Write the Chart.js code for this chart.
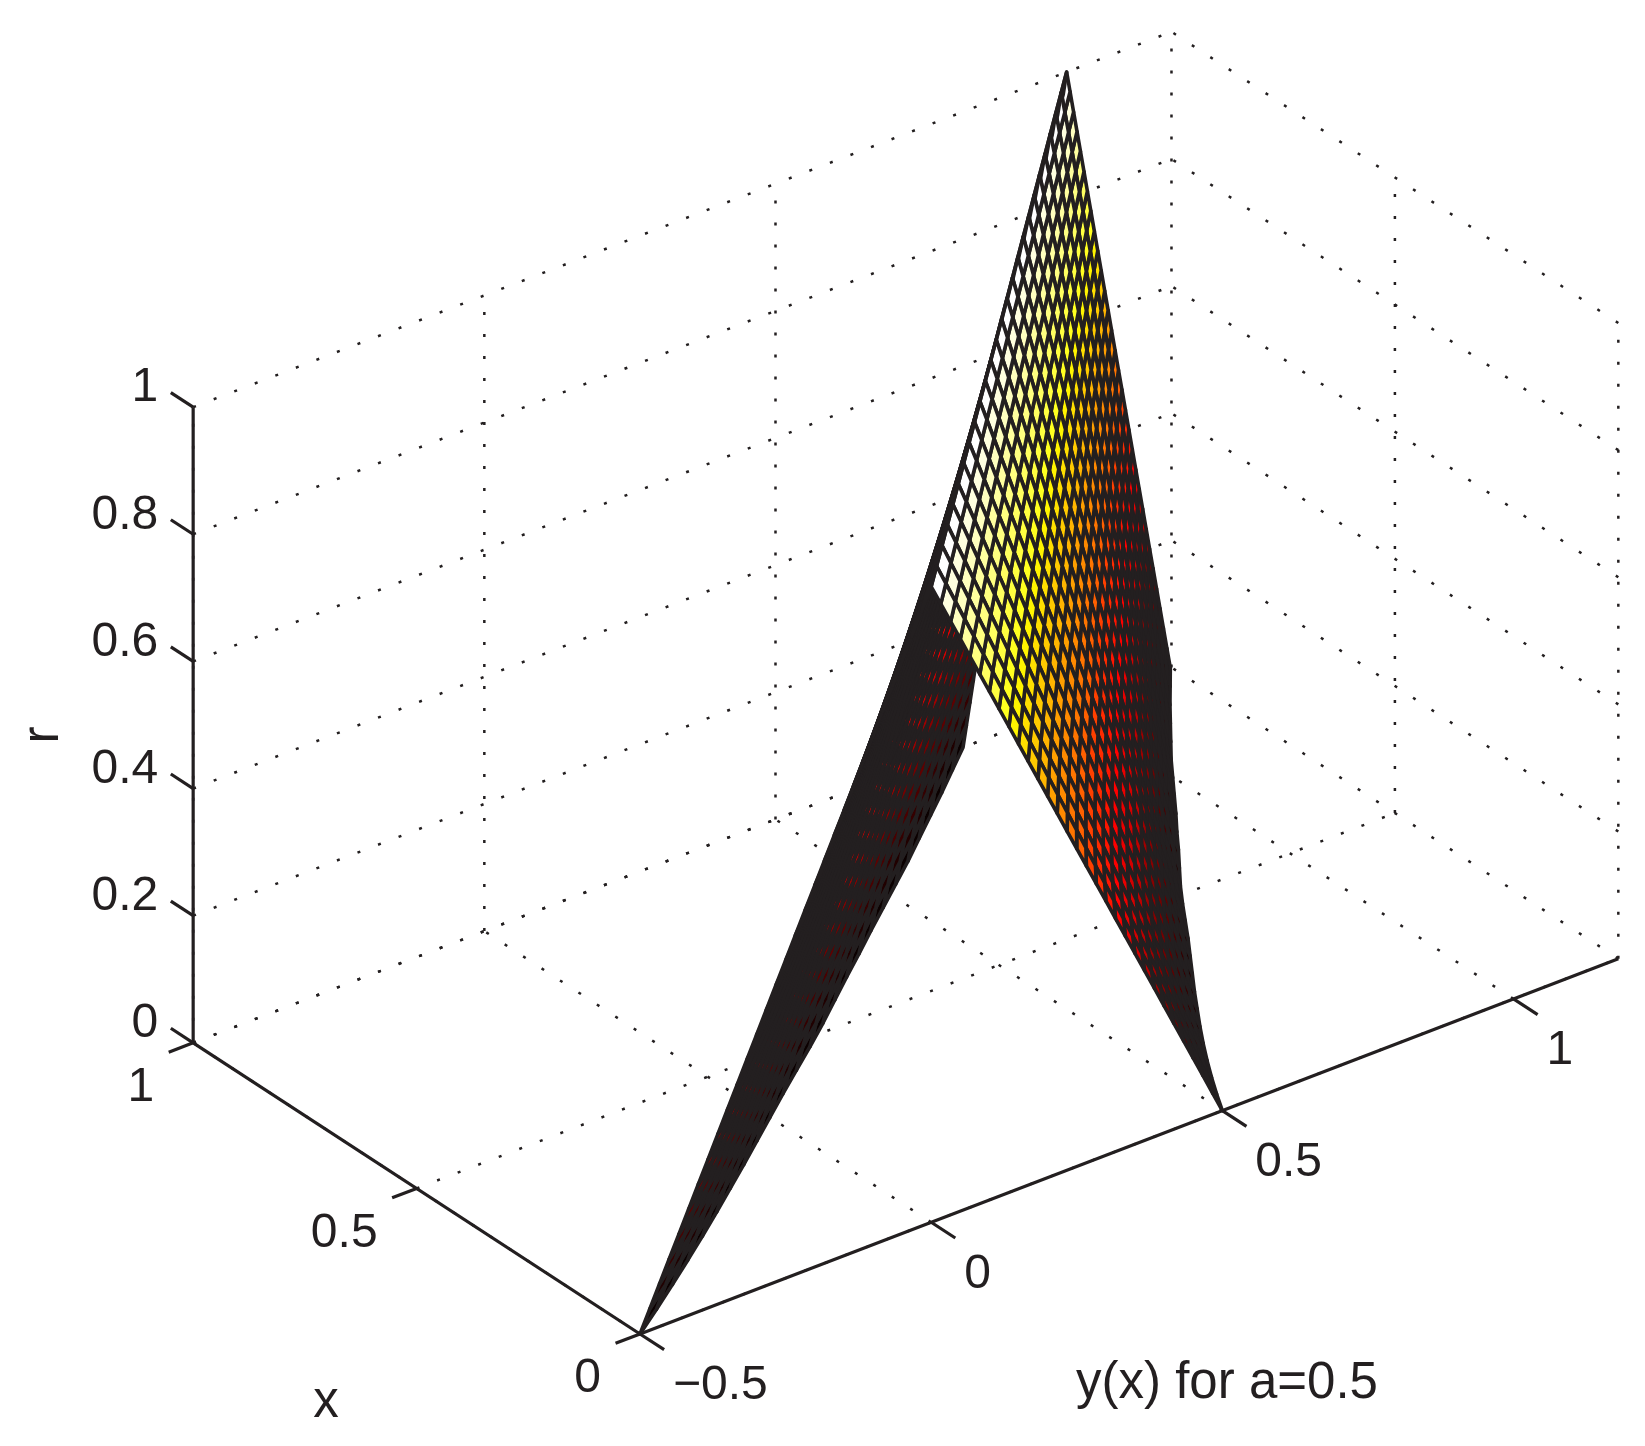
<!DOCTYPE html>
<html>
<head>
<meta charset="utf-8">
<title>y(x) for a=0.5</title>
<script src="https://cdn.jsdelivr.net/npm/chart.js@4.4.1/dist/chart.umd.min.js"></script>
<style>
  html, body { margin: 0; padding: 0; background: #fff; }
  #wrap { position: relative; width: 1645px; height: 1446px; }
</style>
</head>
<body>
<div id="wrap"><canvas id="surfChart"></canvas></div>
<script>
// ---- data ----
const xGrid = [0, 0.04, 0.08, 0.12, 0.16, 0.2, 0.24, 0.28, 0.32, 0.36, 0.4, 0.44, 0.48,
               0.52, 0.56, 0.6, 0.64, 0.68, 0.72, 0.76, 0.8, 0.84, 0.88, 0.92, 0.96, 1];
// y position of the crest (r = 1) for each x
const peakY = [0, 0.04, 0.08, 0.12, 0.16, 0.2, 0.24, 0.28, 0.32, 0.36, 0.4, 0.44, 0.48,
               0.52, 0.56, 0.6, 0.64, 0.68, 0.72, 0.76, 0.8, 0.84, 0.88, 0.92, 0.96, 1];
// half width of the profile at r = 0 for each x
const halfWidth = [0.5, 0.481, 0.463, 0.446, 0.43, 0.415, 0.401, 0.387, 0.374, 0.361, 0.348, 0.334, 0.32,
                   0.307, 0.296, 0.285, 0.273, 0.262, 0.25, 0.238, 0.226, 0.216, 0.206, 0.196, 0.187, 0.178];
// r levels of the mesh on each flank
const rLevels = [0, 0.033, 0.067, 0.1, 0.133, 0.167, 0.2, 0.233, 0.267, 0.3, 0.333,
                 0.367, 0.4, 0.433, 0.467, 0.5, 0.533, 0.567, 0.6, 0.633, 0.667,
                 0.7, 0.733, 0.767, 0.8, 0.833, 0.867, 0.9, 0.933, 0.967, 1];

const xLim = [0, 1];
const yLim = [-0.5, 1.18];
const rLim = [0, 1];
const xTicks = [0, 0.5, 1];
const yTicks = [-0.5, 0, 0.5, 1];
const rTicks = [0, 0.2, 0.4, 0.6, 0.8, 1];
const xTickLabels = ['0', '0.5', '1'];
const yTickLabels = ['\u22120.5', '0', '0.5', '1'];
const rTickLabels = ['0', '0.2', '0.4', '0.6', '0.8', '1'];

// ---- view (az / el) ----
const AZ = 52.5 * Math.PI / 180, EL = 30 * Math.PI / 180;
const SA = Math.sin(AZ), CA = Math.cos(AZ), SE = Math.sin(EL), CE = Math.cos(EL);
const U_MIN = -1.2686, U_MAX = 0.9725, V_MIN = -0.3048, V_MAX = 1.6652;

const INK = '#231f20';
const FONT = '"Liberation Sans", Arial, Helvetica, sans-serif';

function proj(x, y, r) {
    return { x: -x * CA + y * SA, y: SE * SA * x + SE * CA * y + CE * r };
}
function depthOf(x, y, r) {
    return CE * (SA * x + CA * y) - SE * r;
}

// MATLAB 'hot' colormap, 64 entries
function hot(c) {
    const k = Math.max(0, Math.min(63, Math.floor(c * 64)));
    const red = k < 24 ? (k + 1) / 24 : 1;
    const green = k < 24 ? 0 : (k < 48 ? (k - 23) / 24 : 1);
    const blue = k < 48 ? 0 : (k - 47) / 16;
    return 'rgb(' + Math.round(red * 255) + ',' + Math.round(green * 255) + ',' + Math.round(blue * 255) + ')';
}

/* =====================
   Axes, ticks and dotted grid as line datasets
====================== */
function seg(a, b, style) {
    return Object.assign({
        data: [proj(a[0], a[1], a[2]), proj(b[0], b[1], b[2])],
        showLine: true,
        pointRadius: 0,
        fill: false,
        borderColor: INK
    }, style);
}
const dotted = { borderWidth: 2.5, borderDash: [3, 19] };
const solid = { borderWidth: 3.2 };

const datasets = [];
// floor grid
xTicks.forEach(v => datasets.push(seg([v, yLim[0], 0], [v, yLim[1], 0], dotted)));
yTicks.forEach(v => datasets.push(seg([xLim[0], v, 0], [xLim[1], v, 0], dotted)));
// back wall x = 1
yTicks.forEach(v => datasets.push(seg([xLim[1], v, rLim[0]], [xLim[1], v, rLim[1]], dotted)));
rTicks.forEach(v => datasets.push(seg([xLim[1], yLim[0], v], [xLim[1], yLim[1], v], dotted)));
// back wall y = ymax
xTicks.forEach(v => datasets.push(seg([v, yLim[1], rLim[0]], [v, yLim[1], rLim[1]], dotted)));
rTicks.forEach(v => datasets.push(seg([xLim[0], yLim[1], v], [xLim[1], yLim[1], v], dotted)));
// axis lines
datasets.push(seg([xLim[0], yLim[0], 0], [xLim[1], yLim[0], 0], solid));
datasets.push(seg([xLim[0], yLim[0], 0], [xLim[0], yLim[1], 0], solid));
datasets.push(seg([xLim[1], yLim[0], rLim[0]], [xLim[1], yLim[0], rLim[1]], solid));
// tick marks
xTicks.forEach(v => datasets.push(seg([v, yLim[0], 0], [v, yLim[0] - 0.042, 0], solid)));
yTicks.forEach(v => datasets.push(seg([xLim[0], v, 0], [xLim[0] - 0.054, v, 0], solid)));
rTicks.forEach(v => datasets.push(seg([xLim[1], yLim[0], v], [xLim[1] + 0.05, yLim[0], v], solid)));

/* =====================
   Surface mesh (painter's order)
====================== */
const surfacePlugin = {
    id: 'surfaceMesh',
    afterDatasetsDraw(chart) {
        const sx = chart.scales.x, sy = chart.scales.y, ctx = chart.ctx;
        const toPx = (x, y, r) => {
            const p = proj(x, y, r);
            return [sx.getPixelForValue(p.x), sy.getPixelForValue(p.y)];
        };
        const quads = [];
        [-1, 1].forEach(side => {
            for (let i = 0; i < xGrid.length - 1; i++) {
                for (let j = 0; j < rLevels.length - 1; j++) {
                    const corners = [[i, j], [i + 1, j], [i + 1, j + 1], [i, j + 1]].map(([a, b]) => {
                        const r = rLevels[b];
                        return [xGrid[a], peakY[a] + side * halfWidth[a] * (1 - r), r];
                    });
                    let d = 0;
                    corners.forEach(c => { d += depthOf(c[0], c[1], c[2]); });
                    quads.push({
                        pts: corners.map(c => toPx(c[0], c[1], c[2])),
                        depth: d / 4,
                        color: hot(side < 0 ? rLevels[j] : rLevels[j + 1])
                    });
                }
            }
        });
        quads.sort((a, b) => b.depth - a.depth);

        ctx.save();
        ctx.lineWidth = 3.6;
        ctx.lineJoin = 'round';
        ctx.strokeStyle = INK;
        quads.forEach(q => {
            ctx.beginPath();
            ctx.moveTo(q.pts[0][0], q.pts[0][1]);
            for (let k = 1; k < 4; k++) ctx.lineTo(q.pts[k][0], q.pts[k][1]);
            ctx.closePath();
            ctx.fillStyle = q.color;
            ctx.fill();
            ctx.stroke();
        });
        ctx.restore();
    }
};

/* =====================
   Tick labels and axis labels
====================== */
const labelPlugin = {
    id: 'axisText',
    afterDraw(chart) {
        const sx = chart.scales.x, sy = chart.scales.y, ctx = chart.ctx;
        const toPx = (x, y, r) => {
            const p = proj(x, y, r);
            return [sx.getPixelForValue(p.x), sy.getPixelForValue(p.y)];
        };
        ctx.save();
        ctx.fillStyle = INK;
        ctx.font = '48px ' + FONT;
        ctx.textBaseline = 'middle';

        ctx.textAlign = 'right';
        xTicks.forEach((v, i) => {
            const p = toPx(v, yLim[0], 0);
            ctx.fillText(xTickLabels[i], p[0] - 39, p[1] + 45);
        });
        ctx.textAlign = 'left';
        yTicks.forEach((v, i) => {
            const p = toPx(xLim[0], v, 0);
            ctx.fillText(yTickLabels[i], p[0] + 33, p[1] + 52);
        });
        ctx.textAlign = 'right';
        rTicks.forEach((v, i) => {
            const p = toPx(xLim[1], yLim[0], v);
            ctx.fillText(rTickLabels[i], p[0] - 35, p[1] - 19);
        });

        // axis labels
        ctx.font = '51px ' + FONT;
        ctx.textAlign = 'center';
        ctx.textBaseline = 'alphabetic';
        ctx.fillText('y(x) for a=0.5', 1227, 1398);
        ctx.fillText('x', 326, 1417);
        ctx.save();
        ctx.translate(58, 735);
        ctx.rotate(-Math.PI / 2);
        ctx.fillText('r', 0, 0);
        ctx.restore();
        ctx.restore();
    }
};

new Chart(document.getElementById('surfChart'), {
    type: 'scatter',
    data: { datasets: datasets },
    options: {
        responsive: true,
        maintainAspectRatio: false,
        animation: false,
        events: [],
        layout: { padding: 0 },
        scales: {
            x: { type: 'linear', display: false, min: U_MIN, max: U_MAX },
            y: { type: 'linear', display: false, min: V_MIN, max: V_MAX }
        },
        plugins: { legend: { display: false }, tooltip: { enabled: false } }
    },
    plugins: [surfacePlugin, labelPlugin]
});
</script>
</body>
</html>
